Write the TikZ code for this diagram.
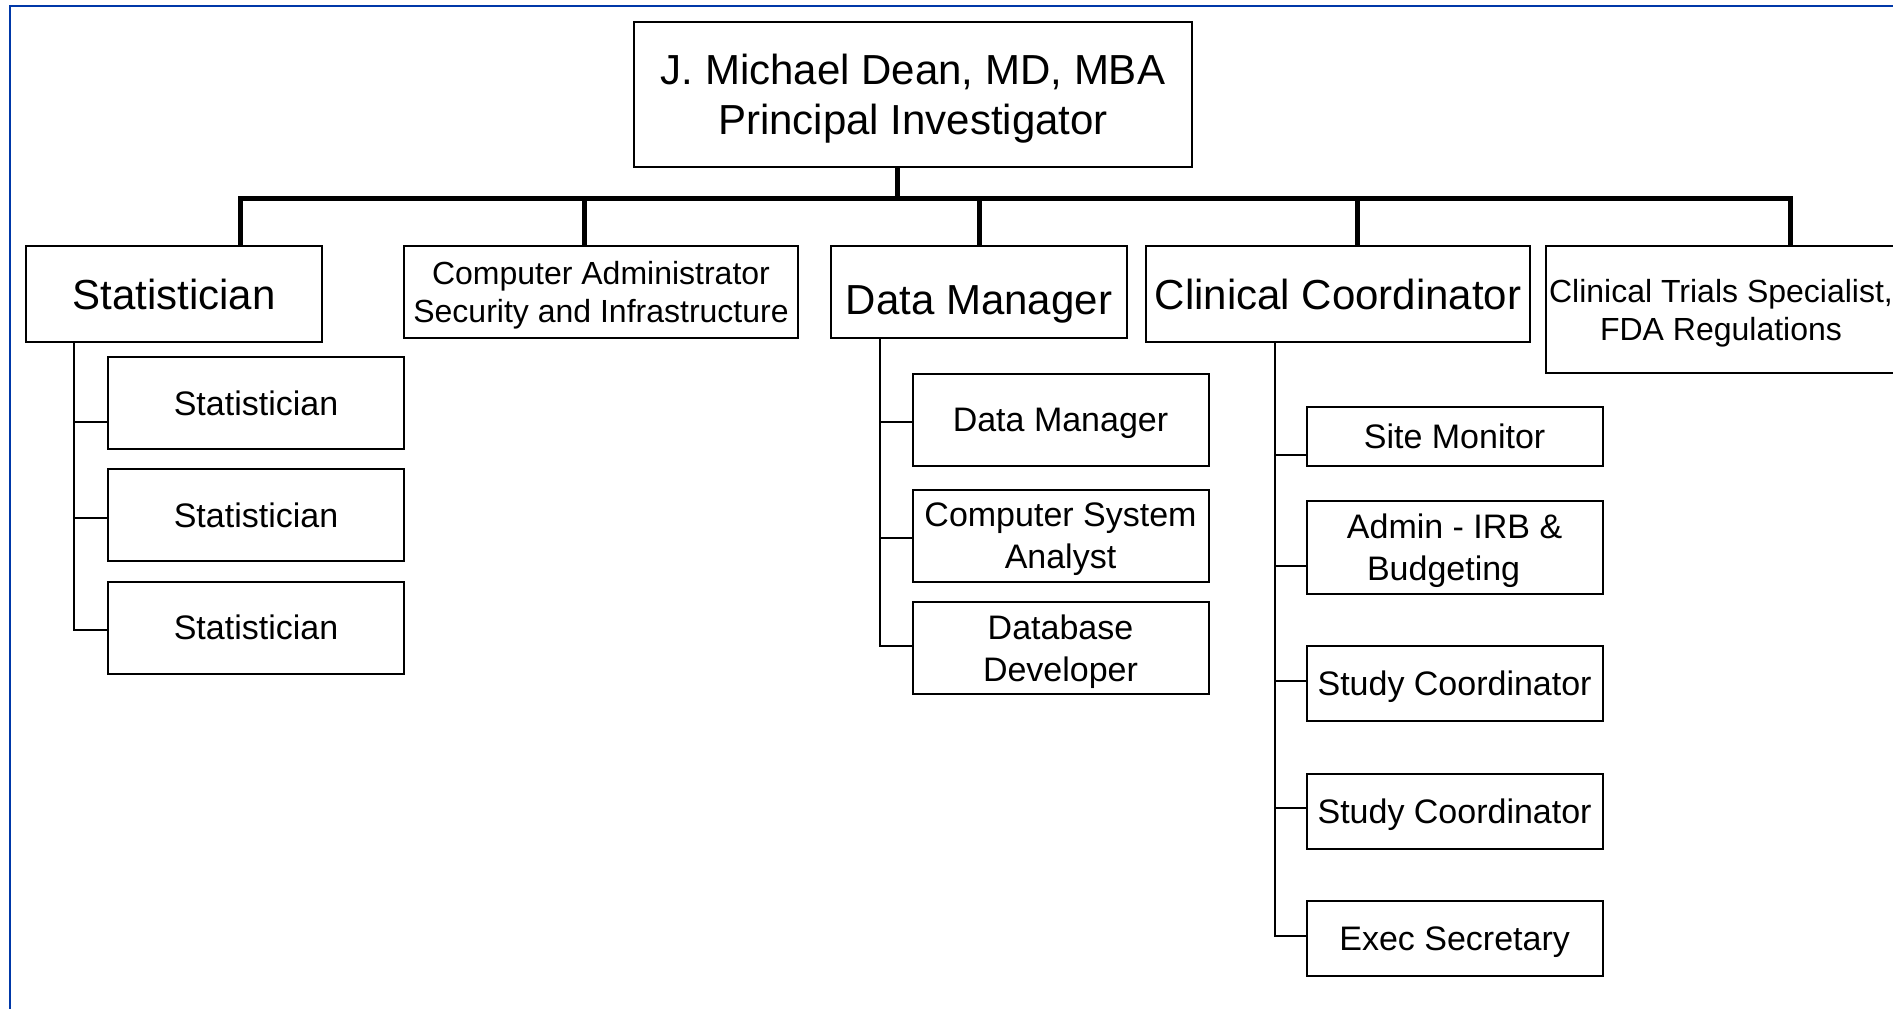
\documentclass[tikz,border=0pt]{standalone}
\usepackage{fontspec}
\setmainfont{Liberation Sans}
\usepackage{tikz}
\definecolor{frameblue}{RGB}{0,56,168}

\tikzset{
  box/.style={draw, line width=2pt, inner sep=0pt, align=center, text depth=0pt, minimum width=296pt},
  bigtext/.style={font=\fontsize{42}{50}\selectfont},
  midtext/.style={font=\fontsize{32}{38}\selectfont},
  subtext/.style={font=\fontsize{34}{42}\selectfont},
  bus/.style={line width=5pt},
  link/.style={line width=2pt},
}

\begin{document}
\begin{tikzpicture}[x=1pt,y=-1pt]
\useasboundingbox (0,0) rectangle (1893,1009);
\clip (0,0) rectangle (1893,1009);
\draw[frameblue, line width=2pt] (10,1100) -- (10,6) -- (2000,6);

% top and first row
\node[box, bigtext, minimum width=558pt, minimum height=145pt] (pi) at (913,94.2) {J. Michael Dean, MD, MBA\\Principal Investigator};
\node[box, bigtext, minimum height=96pt] (stat) at (174,294) {Statistician};
\node[box, midtext, minimum width=394pt, minimum height=92pt] (admin) at (601,292) {Computer Administrator\\Security and Infrastructure};
\node[box, bigtext, minimum height=92pt, text height=44pt] (dm) at (979,292) {Data Manager};
\node[box, bigtext, minimum width=384pt, minimum height=96pt] (cc) at (1338,294) {Clinical Coordinator};
\node[box, midtext, minimum width=350pt, minimum height=127pt] (ct) at (1721,309.5) {Clinical Trials Specialist,\\FDA Regulations};

% statisticians
\node[box, subtext, minimum height=92pt] (s1) at (256,403.4) {Statistician};
\node[box, subtext, minimum height=92pt] (s2) at (256,515.4) {Statistician};
\node[box, subtext, minimum height=92pt] (s3) at (256,627.5) {Statistician};

% data management
\node[box, subtext, minimum height=92pt] (d1) at (1060.5,419.9) {Data Manager};
\node[box, subtext, minimum height=92pt] (d2) at (1060.5,535.9) {Computer System\\Analyst};
\node[box, subtext, minimum height=92pt] (d3) at (1060.5,647.8) {Database\\Developer};

% clinical
\node[box, subtext, minimum height=59pt] (c1) at (1454.6,436) {Site Monitor};
\node[box, subtext, minimum height=92.5pt] (c2) at (1454.6,547.3) {Admin - IRB \&\\Budgeting\hspace*{22pt}};
\node[box, subtext, minimum height=75.5pt] (c3) at (1454.6,683.5) {Study Coordinator};
\node[box, subtext, minimum height=75.5pt] (c4) at (1454.6,811.3) {Study Coordinator};
\node[box, subtext, minimum height=75pt] (c5) at (1454.6,938.9) {Exec Secretary};

% bus
\coordinate (busL) at (240,198.3);
\coordinate (busR) at (1790,198.3);
\coordinate (piD) at (897,198.3);
\coordinate (adD) at (584,198.3);
\coordinate (ccD) at (1357,198.3);
\draw[bus] (busL |- stat.north) -- (busL) -- (busR) -- (busR |- ct.north);
\draw[bus] (piD |- pi.south) -- (piD);
\draw[bus] (adD) -- (adD |- admin.north);
\draw[bus] (dm.north |- busL) -- (dm.north);
\draw[bus] (ccD) -- (ccD |- cc.north);

% branches
\coordinate (sEnd) at (74,630);
\coordinate (s1c) at (74,421.7);
\coordinate (s2c) at (74,518.3);
\draw[link] (stat.south -| sEnd) -- (sEnd) -- (sEnd -| s3.west);
\draw[link] (s1c) -- (s1c -| s1.west);
\draw[link] (s2c) -- (s2c -| s2.west);

\coordinate (dEnd) at (880,645.7);
\coordinate (d1c) at (880,421.7);
\coordinate (d2c) at (880,538.3);
\draw[link] (dm.south -| dEnd) -- (dEnd) -- (dEnd -| d3.west);
\draw[link] (d1c) -- (d1c -| d1.west);
\draw[link] (d2c) -- (d2c -| d2.west);

\coordinate (cEnd) at (1274.5,936);
\coordinate (c1c) at (1274.5,454.5);
\coordinate (c2c) at (1274.5,565.5);
\coordinate (c3c) at (1274.5,681);
\coordinate (c4c) at (1274.5,808);
\draw[link] (cc.south -| cEnd) -- (cEnd) -- (cEnd -| c5.west);
\draw[link] (c1c) -- (c1c -| c1.west);
\draw[link] (c2c) -- (c2c -| c2.west);
\draw[link] (c3c) -- (c3c -| c3.west);
\draw[link] (c4c) -- (c4c -| c4.west);
\end{tikzpicture}
\end{document}
